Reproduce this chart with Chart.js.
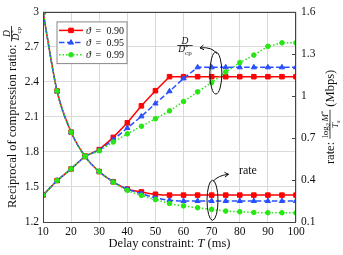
<!DOCTYPE html>
<html>
<head>
<meta charset="utf-8">
<script src="https://cdn.jsdelivr.net/npm/chart.js@4.4.0/dist/chart.umd.min.js"></script>
<style>html,body{margin:0;padding:0;background:#fff;}</style>
</head>
<body>
<canvas id="myChart" width="343" height="255"></canvas>
<script>
// values (T in ms)
var delays = [10,15,20,25,30,35,40,45,50,55,60,65,70,75,80,85,90,95,100];

// reciprocal of compression ratio, left axis
var ratio090 = [1.43,1.555,1.655,1.765,1.82,1.925,2.05,2.195,2.325,2.445,2.445,2.445,2.445,2.445,2.445,2.445,2.445,2.445,2.445];
var ratio095 = [1.43,1.555,1.655,1.765,1.815,1.905,2.005,2.105,2.215,2.32,2.43,2.525,2.525,2.525,2.525,2.525,2.525,2.525,2.525];
var ratio099 = [1.43,1.555,1.655,1.765,1.81,1.885,1.955,2.02,2.085,2.152,2.232,2.315,2.395,2.485,2.565,2.63,2.705,2.735,2.735];

// rate in Mbps, right axis
var rate090 = [1.6,1.035,0.742,0.567,0.46,0.387,0.335,0.315,0.298,0.292,0.292,0.292,0.292,0.292,0.292,0.292,0.292,0.292,0.292];
var rate095 = [1.6,1.035,0.742,0.567,0.46,0.387,0.335,0.303,0.272,0.256,0.25,0.25,0.25,0.25,0.25,0.25,0.25,0.25,0.25];
var rate099 = [1.6,1.035,0.742,0.567,0.46,0.385,0.326,0.29,0.26,0.232,0.215,0.202,0.19,0.178,0.173,0.168,0.166,0.166,0.165];

var thetas = ['0.90','0.95','0.99'];
var xTicks = [10,20,30,40,50,60,70,80,90,100];
var leftTicks = [1.2,1.5,1.8,2.1,2.4,2.7,3];
var rightTicks = [0.1,0.4,0.7,1,1.3,1.6];

var SERIF = "'Liberation Serif', 'DejaVu Serif', serif";
var styles = [
    {color:'rgb(255,0,0)', dash:[], point:'rect', r:3.2},
    {color:'rgb(40,80,255)', dash:[5.5,2.5], point:'triangle', r:3.0},
    {color:'rgb(40,230,20)', dash:[1.5,2], point:'circle', r:2.3}
];

function series(vals){
    return vals.map(function(v,i){ return {x: delays[i], y: v}; });
}

var datasets = [];
[ratio090, ratio095, ratio099].forEach(function(vals, i){
    var s = styles[i];
    datasets.push({data: series(vals), yAxisID:'y', order: 3-i,
        borderColor:s.color, backgroundColor:s.color, borderWidth:1.5, borderDash:s.dash,
        pointStyle:s.point, pointRadius:s.r, pointBorderWidth:1, tension:0});
});
[rate090, rate095, rate099].forEach(function(vals, i){
    var s = styles[i];
    datasets.push({data: series(vals), yAxisID:'y1', order: 3-i,
        borderColor:s.color, backgroundColor:s.color, borderWidth:1.5, borderDash:s.dash,
        pointStyle:s.point, pointRadius:s.r, pointBorderWidth:1, cubicInterpolationMode:'monotone'});
});

// small helpers for the math-ish labels
function pw(ctx,p){
    if(p.frac) return Math.max(rw(ctx,p.frac[0]), rw(ctx,p.frac[1])) + 2;
    if(p.stack){
        ctx.font=p.stack[0].f; var a=ctx.measureText(p.stack[0].t).width;
        ctx.font=p.stack[1].f; var b=ctx.measureText(p.stack[1].t).width;
        return Math.max(a,b);
    }
    ctx.font=p.f; return ctx.measureText(p.t).width + (p.gap||0);
}
function rw(ctx,row){ var s=0; row.forEach(function(p){ s+=pw(ctx,p); }); return s; }
function drawRow(ctx,row,x,y){
    row.forEach(function(p){
        var w=pw(ctx,p);
        if(p.frac){
            var axis=y-p.axis;
            var nw=rw(ctx,p.frac[0]), dw=rw(ctx,p.frac[1]);
            drawRow(ctx,p.frac[0], x+(w-nw)/2, axis-p.up);
            drawRow(ctx,p.frac[1], x+(w-dw)/2, axis+p.down);
            ctx.fillRect(x, axis-0.4, w, 0.8);
        } else if(p.stack){
            ctx.font=p.stack[0].f; ctx.fillText(p.stack[0].t, x, y+p.stack[0].dy);
            ctx.font=p.stack[1].f; ctx.fillText(p.stack[1].t, x, y+p.stack[1].dy);
        } else {
            ctx.font=p.f; ctx.fillText(p.t, x, y+(p.dy||0));
        }
        x+=w;
    });
}

var dFrac = {frac:[
    [{t:'D', f:'italic 9.5px '+SERIF}],
    [{t:'D', f:'italic 9.5px '+SERIF}, {stack:[{t:'*', f:'7px '+SERIF, dy:-3.5},{t:'cp', f:'7px '+SERIF, dy:2.5}]}]
], axis:4, up:1.8, down:7};

var leftTitle = [{t:'Reciprocal of compression ratio: ', f:'12.5px '+SERIF}, dFrac];
var rightTitle = [{t:'rate: ', f:'12.5px '+SERIF},
    {frac:[
        [{t:'log', f:'9px '+SERIF}, {t:'2', f:'6.5px '+SERIF, dy:2, gap:1.5}, {t:'M', f:'italic 9px '+SERIF}, {t:'*', f:'6.5px '+SERIF, dy:-3}],
        [{t:'T', f:'italic 9px '+SERIF}, {t:'s', f:'italic 6.5px '+SERIF, dy:2}]
    ], axis:4, up:1.8, down:7.5},
    {t:' (Mbps)', f:'12.5px '+SERIF}];
var xTitle = [{t:'Delay constraint: ', f:'12.5px '+SERIF}, {t:'T', f:'italic 12.5px '+SERIF}, {t:' (ms)', f:'12.5px '+SERIF}];

function arrow(ctx, x0, y0, cx, cy, x1, y1){
    ctx.beginPath(); ctx.moveTo(x0,y0); ctx.quadraticCurveTo(cx,cy,x1,y1); ctx.stroke();
    var a=Math.atan2(y1-cy, x1-cx);
    ctx.beginPath();
    ctx.moveTo(x1-4.5*Math.cos(a-0.55), y1-4.5*Math.sin(a-0.55));
    ctx.lineTo(x1,y1);
    ctx.lineTo(x1-4.5*Math.cos(a+0.55), y1-4.5*Math.sin(a+0.55));
    ctx.stroke();
}

var extras = {
    id:'extras',
    afterDraw: function(chart){
        var ctx=chart.ctx, a=chart.chartArea;
        var sx=chart.scales.x, sl=chart.scales.y, sr=chart.scales.y1;
        ctx.save();
        // frame
        ctx.strokeStyle='#444'; ctx.lineWidth=1;
        ctx.strokeRect(Math.round(a.left)+0.5, Math.round(a.top)+0.5, Math.round(a.right-a.left)-1, Math.round(a.bottom-a.top));
        // inward ticks of the right axis
        rightTicks.forEach(function(v){
            var y=Math.round(sr.getPixelForValue(v))+0.5;
            ctx.beginPath(); ctx.moveTo(a.right-4,y); ctx.lineTo(a.right,y); ctx.stroke();
        });
        ctx.fillStyle='#111'; ctx.strokeStyle='#111';
        ctx.textBaseline='alphabetic'; ctx.textAlign='left';
        // axis titles
        ctx.save(); ctx.translate(15.5,(a.top+a.bottom)/2); ctx.rotate(-Math.PI/2);
        drawRow(ctx,leftTitle,-rw(ctx,leftTitle)/2,0); ctx.restore();
        ctx.save(); ctx.translate(334,(a.top+a.bottom)/2); ctx.rotate(-Math.PI/2);
        drawRow(ctx,rightTitle,-rw(ctx,rightTitle)/2,0); ctx.restore();
        drawRow(ctx,xTitle,(a.left+a.right)/2-rw(ctx,xTitle)/2,246.5);

        // legend box
        var bx=a.left+13.5, by=a.top+9.5;
        ctx.fillStyle='#fff'; ctx.fillRect(bx,by,70,41.7);
        ctx.strokeStyle='#888'; ctx.strokeRect(bx+0.5,by+0.5,70,41.7);
        thetas.forEach(function(th,i){
            var s=styles[i], y=by+9+i*12.2;
            ctx.strokeStyle=s.color; ctx.fillStyle=s.color; ctx.lineWidth=1.5;
            ctx.setLineDash(s.dash);
            ctx.beginPath(); ctx.moveTo(bx+2.5,y); ctx.lineTo(bx+26.5,y); ctx.stroke();
            ctx.setLineDash([]); ctx.lineWidth=1;
            Chart.helpers.drawPoint(ctx,{pointStyle:s.point, radius:s.r, rotation:0, borderWidth:1},bx+14.5,y);
            ctx.fillStyle='#111';
            ctx.font='italic 10px '+SERIF; ctx.fillText('\u03d1',bx+29.5,y+3.3);
            ctx.font='10px '+SERIF; ctx.fillText('=',bx+39,y+3.3); ctx.fillText(th,bx+50,y+3.3);
        });

        // annotations
        ctx.strokeStyle='#111'; ctx.fillStyle='#111'; ctx.lineWidth=1;
        var ex=sx.getPixelForValue(71.5), ey=sl.getPixelForValue(2.476);
        ctx.beginPath(); ctx.ellipse(ex,ey,6,21,0,0,2*Math.PI); ctx.stroke();
        var fx=sx.getPixelForValue(60.5), fy=sl.getPixelForValue(2.713);
        var fw=pw(ctx,dFrac);
        drawRow(ctx,[dFrac],fx-fw/2,fy+dFrac.axis);
        arrow(ctx, ex+1.5, ey-19, ex-4, fy+1, fx+15, fy+2.5);

        var rx=sx.getPixelForValue(70.3), ry=sr.getPixelForValue(0.255);
        ctx.beginPath(); ctx.ellipse(rx,ry,5.5,20,0,0,2*Math.PI); ctx.stroke();
        arrow(ctx, rx+0.5, ry-19, rx+6, ry-25, rx+16, ry-26);
        ctx.font='12px '+SERIF; ctx.textAlign='center';
        ctx.fillText('rate', sx.getPixelForValue(82.9), sr.getPixelForValue(0.466)+3.5);
        ctx.restore();
    }
};

function fmt(v){ return String(Number(v.toFixed(1))); }
var tickFont = {family: SERIF, size: 11.5};

var ctx = document.getElementById('myChart').getContext('2d');
var myChart = new Chart(ctx, {
    type: 'line',
    data: {datasets: datasets},
    options: {
        responsive:false, animation:false, devicePixelRatio:1,
        layout:{padding:{top:9,left:0,right:0,bottom:0}},
        plugins:{legend:{display:false}, tooltip:{enabled:false}},
        scales:{
            x:{type:'linear', min:10, max:100,
                afterBuildTicks:function(s){ s.ticks=xTicks.map(function(v){return {value:v};}); },
                afterFit:function(s){ s.height=33; },
                grid:{color:'#dadada', drawTicks:false}, border:{display:false},
                ticks:{padding:3, font:tickFont, color:'#111', maxRotation:0, callback:fmt}},
            y:{type:'linear', position:'left', min:1.2, max:3,
                afterBuildTicks:function(s){ s.ticks=leftTicks.map(function(v){return {value:v};}); },
                afterFit:function(s){ s.width=43; },
                grid:{color:'#dadada', drawTicks:false}, border:{display:false},
                ticks:{padding:4, font:tickFont, color:'#111', callback:fmt}},
            y1:{type:'linear', position:'right', min:0.1, max:1.6,
                afterBuildTicks:function(s){ s.ticks=rightTicks.map(function(v){return {value:v};}); },
                afterFit:function(s){ s.width=47; },
                grid:{drawOnChartArea:false, drawTicks:false}, border:{display:false},
                ticks:{padding:5, font:tickFont, color:'#111', callback:fmt}}
        }
    },
    plugins:[extras]
});
</script>
</body>
</html>
